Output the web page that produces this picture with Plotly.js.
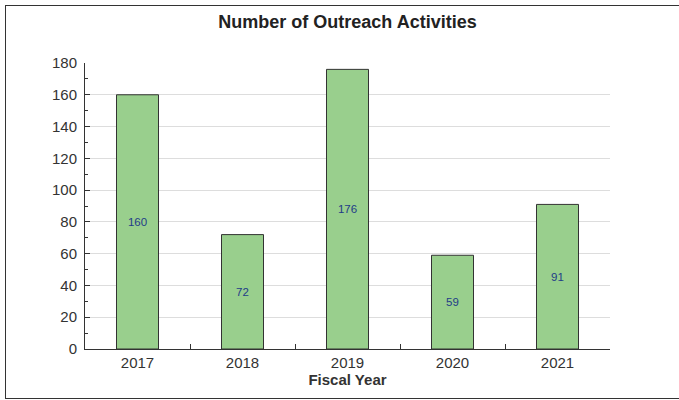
<!DOCTYPE html>
<html><head><meta charset="utf-8">
<script src="https://cdn.plot.ly/plotly-3.0.1.min.js"></script>
<style>
html,body{margin:0;padding:0;background:#fff;overflow:hidden;}
#wrap{position:relative;width:679px;height:400px;}
#chart{position:absolute;left:0;top:0;width:679px;height:400px;}
#frame{position:absolute;left:5px;top:5px;width:690px;height:394px;border:1.5px solid #333;pointer-events:none;box-sizing:border-box;}
</style></head>
<body><div id="wrap"><div id="chart"></div><div id="frame"></div></div>
<script>
const years = ['2017','2018','2019','2020','2021'];
const activities = [160, 72, 176, 59, 91];
const chartTitle = 'Number of Outreach Activities';
const xTitle = 'Fiscal Year';

const trace = {
  type: 'bar',
  x: years,
  y: activities,
  width: 0.4,
  marker: {color: '#99CF8D', line: {color: '#333333', width: 1}},
  text: activities.map(String),
  textposition: 'inside',
  insidetextanchor: 'middle',
  textangle: 0,
  textfont: {family: 'Liberation Sans, Arial, sans-serif', size: 11.5, color: '#1F3C88'},
  hoverinfo: 'none'
};

const layout = {
  width: 679, height: 400,
  margin: {l: 85, r: 69, t: 63, b: 51},
  paper_bgcolor: '#ffffff', plot_bgcolor: '#ffffff',
  showlegend: false,
  title: {text: '<b>' + chartTitle + '</b>', x: 0.5, xanchor: 'center', xref: 'paper', y: 0.945, yanchor: 'middle',
    font: {family: 'Liberation Sans, Arial, sans-serif', size: 18, color: '#222'}},
  font: {family: 'Liberation Sans, Arial, sans-serif', size: 15, color: '#333'},
  xaxis: {
    type: 'category',
    showline: true, linecolor: '#333', linewidth: 1,
    ticks: 'inside', tickson: 'boundaries', ticklen: 5, tickcolor: '#333',
    showgrid: false, zeroline: false,
    tickfont: {size: 15, color: '#333'},
    title: {text: '<b>' + xTitle + '</b>', standoff: 2, font: {size: 15, color: '#333'}}
  },
  yaxis: {
    range: [0, 180], dtick: 20, tick0: 0,
    showline: true, linecolor: '#333', linewidth: 1,
    ticks: 'inside', ticklen: 5, tickcolor: '#333',
    showgrid: true, gridcolor: '#dddddd', gridwidth: 1,
    zeroline: false,
    tickfont: {size: 15, color: '#333'},
    ticklabelstandoff: 4,
    minor: {dtick: 10, ticks: 'inside', ticklen: 3, tickcolor: '#333', showgrid: false}
  },
  bargap: 0.6
};

Plotly.newPlot('chart', [trace], layout, {displayModeBar: false, staticPlot: true});
</script></body></html>
